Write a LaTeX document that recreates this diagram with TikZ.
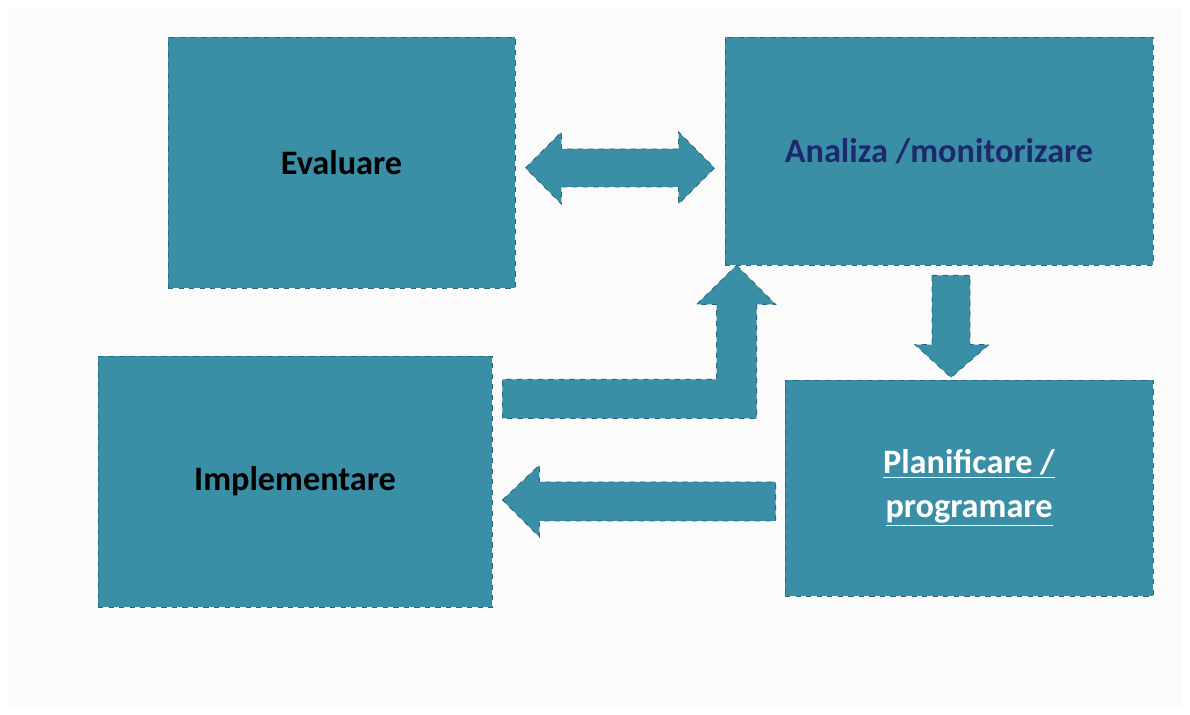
\documentclass[tikz,border=0pt]{standalone}
\usepackage{fontspec}
\setmainfont{Carlito}
\usetikzlibrary{calc}
\definecolor{bloc}{RGB}{58,143,166}
\definecolor{bord}{RGB}{40,105,125}
\definecolor{bleumarin}{RGB}{30,40,110}
\tikzset{
  etape/.style={fill=bloc,draw=bord,dashed,line width=0.5pt,inner sep=0pt,
    align=center,font=\fontsize{19.5}{25}\selectfont\bfseries},
  fleche/.style={fill=bloc,draw=bord,dashed,line width=0.5pt}
}
\begin{document}
\begin{tikzpicture}
\useasboundingbox (0,0) rectangle (23.8,-14.3);
\fill[color=black!1.5] (0.16,-0.16) rectangle (23.64,-14.14);%fond
% les quatre etapes
\node[etape,minimum width=6.94cm,minimum height=5.02cm] (eval) at (6.83,-3.25) {Evaluare};
\node[etape,minimum width=8.56cm,minimum height=4.56cm,text=bleumarin] (anal) at (18.78,-3.02) {Analiza /monitorizare};
\node[etape,minimum width=7.88cm,minimum height=5.02cm] (impl) at (5.90,-9.63) {Implementare};
\node[etape,minimum width=7.36cm,minimum height=4.32cm,text=white] (plan) at (19.38,-9.76) {\underline{Planificare /}\\\underline{programare}};
% fleche double evaluare <-> analiza
\coordinate (dg) at ($(eval.east)+(0.2,-0.11)$);
\coordinate (dd) at ($(anal.west)+(-0.2,0)$);
\draw[fleche] let \p1=(dg), \p2=(dd) in
  (\x1,\y1) -- (\x1+0.72cm,\y1+0.72cm) -- (\x1+0.72cm,\y1+0.38cm)
  -- (\x2-0.72cm,\y1+0.38cm) -- (\x2-0.72cm,\y1+0.72cm) -- (\x2,\y1)
  -- (\x2-0.72cm,\y1-0.72cm) -- (\x2-0.72cm,\y1-0.38cm)
  -- (\x1+0.72cm,\y1-0.38cm) -- (\x1+0.72cm,\y1-0.72cm) -- cycle;
% fleche coudee implementare -> analiza
\coordinate (cp) at ($(anal.south west)+(0.24,0)$);
\coordinate (cd) at ($(impl.east)+(0.2,0)$);
\draw[fleche] let \p1=(cp), \p2=(cd) in
  (\x1,\y1) -- (\x1+0.78cm,\y1-0.78cm) -- (\x1+0.40cm,\y1-0.78cm)
  -- (\x1+0.40cm,\y1-3.06cm) -- (\x2,\y1-3.06cm) -- (\x2,\y1-2.28cm)
  -- (\x1-0.40cm,\y1-2.28cm) -- (\x1-0.40cm,\y1-0.78cm)
  -- (\x1-0.80cm,\y1-0.78cm) -- cycle;
% fleche analiza -> planificare
\coordinate (bh) at ($(anal.south)+(0.24,-0.2)$);
\coordinate (bp) at ($(plan.north)+(0,0.04)$);
\draw[fleche] let \p1=(bh), \p2=(bp) in
  (\x1-0.38cm,\y1) -- (\x1+0.38cm,\y1) -- (\x1+0.38cm,\y2+0.66cm)
  -- (\x1+0.76cm,\y2+0.66cm) -- (\x1,\y2) -- (\x1-0.72cm,\y2+0.66cm)
  -- (\x1-0.38cm,\y2+0.66cm) -- cycle;
% fleche planificare -> implementare
\coordinate (gp) at ($(impl.east)+(0.2,-0.37)$);
\coordinate (gd) at ($(plan.west)+(-0.18,0)$);
\draw[fleche] let \p1=(gp), \p2=(gd) in
  (\x1,\y1) -- (\x1+0.74cm,\y1+0.70cm) -- (\x1+0.74cm,\y1+0.36cm)
  -- (\x2,\y1+0.36cm) -- (\x2,\y1-0.42cm) -- (\x1+0.74cm,\y1-0.42cm)
  -- (\x1+0.74cm,\y1-0.74cm) -- cycle;
\end{tikzpicture}
\end{document}
